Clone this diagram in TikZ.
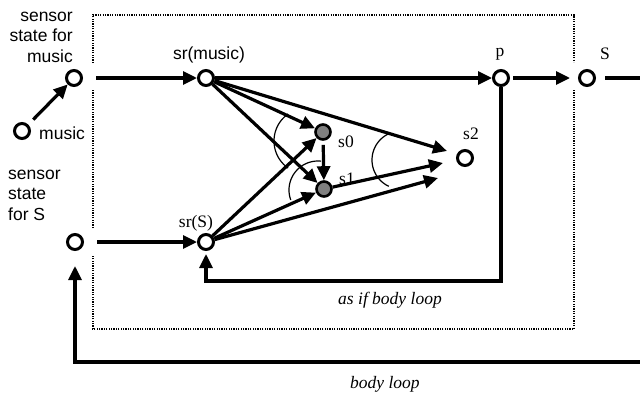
\documentclass[tikz,border=0pt]{standalone}
\usepackage{fontspec}
\setmainfont{Liberation Serif}
\setsansfont{Liberation Sans}
\usetikzlibrary{arrows.meta}
\begin{document}
\begin{tikzpicture}[x=1pt,y=-1pt,
  st/.style={circle,draw,line width=3pt,minimum size=15pt,inner sep=0pt,fill=white},
  gst/.style={circle,draw,line width=2.6pt,minimum size=15pt,inner sep=0pt,fill=gray},
  conn/.style={line width=3.2pt,-{Triangle[length=14pt,width=13pt]}},
  plainline/.style={line width=3.2pt},
  andarc/.style={line width=1.2pt},
  sanslbl/.style={font=\sffamily\fontsize{17.5}{20.5}\selectfont,inner sep=0pt},
  serlbl/.style={font=\rmfamily\fontsize{17.5}{20}\selectfont,inner sep=0pt},
  itlbl/.style={font=\rmfamily\itshape\fontsize{17.5}{20}\selectfont,inner sep=0pt},
  boxline/.style={line width=1.4pt,dash pattern=on 1.2pt off 1.2pt}
]
\useasboundingbox (0,0) rectangle (640,394);

% dotted frame
\draw[boxline] (93,63) -- (93,15) -- (574,15) -- (574,62);
\draw[boxline] (574,90) -- (574,329) -- (93,329) -- (93,255);
\draw[boxline] (93,228) -- (93,90);

% helper coordinates
\coordinate (e1) at (640,78);
\coordinate (e2) at (640,362);
\coordinate (al) at (0,281);
\coordinate (t2a) at (447,151);
\coordinate (t2b) at (443,163);
\coordinate (t2c) at (438,178);

% nodes
\node[st] (mus) at (22,131) {};
\node[st] (ssm) at (74,78) {};
\node[st] (srm) at (206,78) {};
\node[st] (p) at (501,78) {};
\node[st] (S) at (587,78) {};
\node[gst] (s0) at (323,132) {};
\node[gst] (s1) at (324,189) {};
\node[st] (s2) at (465,158) {};
\node[st] (sss) at (75,242) {};
\node[st] (srs) at (206,242) {};

% labels
\node[sanslbl,align=right,anchor=base east] (lssm) at (73,62) {sensor\\state for\\music};
\node[sanslbl,anchor=base west] (lmus) at (39,139) {music};
\node[sanslbl,align=left,anchor=base west] (lsss) at (8,220) {sensor\\state\\for S};
\node[sanslbl,anchor=base] (lsrm) at (209,59) {sr(music)};
\node[serlbl,anchor=base] (lp) at (500,56) {p};
\node[serlbl,anchor=base] (lS) at (605,59) {S};
\node[serlbl,anchor=base west] (ls0) at (338,147) {s0};
\node[serlbl,anchor=base west] (ls1) at (339,184) {s1};
\node[serlbl,anchor=base west] (ls2) at (463,139) {s2};
\node[serlbl,anchor=base] (lsrs) at (196,227) {sr(S)};
\node[itlbl,anchor=base west] (lasif) at (338,304) {as if body loop};
\node[itlbl,anchor=base west] (lbody) at (350,388) {body loop};

% connectors
\draw[conn,shorten <=7pt] (mus) -- (ssm);
\draw[conn,shorten <=13pt] (ssm) -- (srm);
\draw[conn] (srm) -- (p);
\draw[conn,shorten <=3pt,shorten >=8pt] (p) -- (S);
\draw[plainline,shorten <=9pt] (S) -- (e1);
\draw[conn,shorten >=15pt] (e2) -| (sss);
\draw[conn,shorten <=13pt] (sss) -- (srs);
\draw[conn,shorten >=3pt] (p) -- (p |- al) -| (srs);

\draw[conn] (srm) -- (s0);
\draw[conn] (srm) -- (s1);
\draw[conn] (srm) -- (t2a);
\draw[conn] (srs) -- (s0);
\draw[conn] (srs) -- (s1);
\draw[conn] (srs) -- (t2c);
\draw[conn] (s1) -- (t2b);
\draw[conn,shorten <=4pt] (s0) -- (s1);

% conjunction arcs
\draw[andarc] plot[domain=125:235,samples=40] ({307+33*cos(\x)},{141-33*sin(\x)});
\draw[andarc] plot[domain=84:200,samples=40] ({318+29*cos(\x)},{190-29*sin(\x)});
\draw[andarc] plot[domain=112:245,samples=40] ({401+29*cos(\x)},{160-29*sin(\x)});
\end{tikzpicture}
\end{document}
